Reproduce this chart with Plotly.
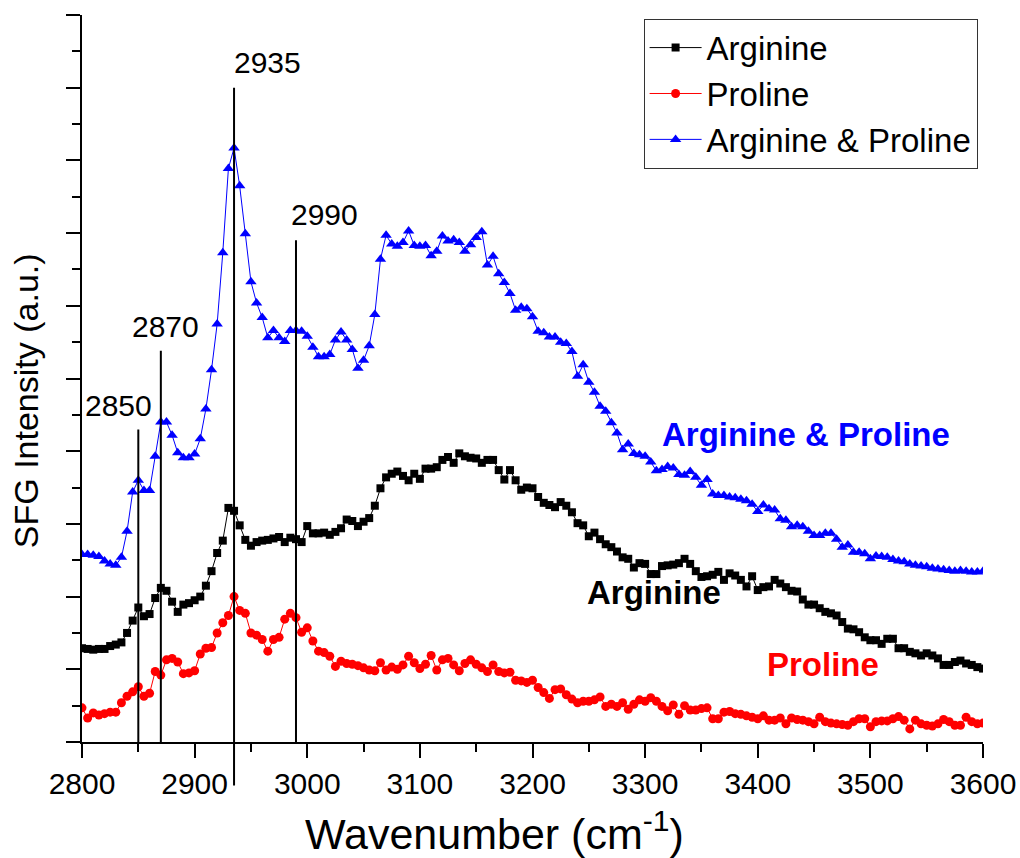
import plotly.graph_objects as go

# Wavenumber grid of the SFG scans (cm^-1, 5 cm^-1 steps)
wavenumber = list(range(2800, 3601, 5))

# SFG intensities (a.u.), curves offset vertically for clarity
arginine = [
    1.29, 1.28, 1.27, 1.28, 1.28, 1.32, 1.34, 1.37, 1.50, 1.67,
    1.85, 1.73, 1.76, 1.98, 2.12, 2.08, 1.93, 1.79, 1.89, 1.91,
    1.95, 2.00, 2.15, 2.35, 2.60, 2.77, 3.22, 3.18, 2.98, 2.78,
    2.70, 2.75, 2.77, 2.78, 2.80, 2.82, 2.75, 2.81, 2.79, 2.75,
    2.97, 2.87, 2.87, 2.88, 2.85, 2.89, 2.94, 3.06, 3.04, 2.97,
    3.03, 3.08, 3.25, 3.49, 3.64, 3.69, 3.72, 3.66, 3.60, 3.69,
    3.62, 3.76, 3.76, 3.78, 3.88, 3.92, 3.84, 3.97, 3.93, 3.91,
    3.90, 3.84, 3.88, 3.88, 3.74, 3.61, 3.74, 3.60, 3.47, 3.50,
    3.49, 3.37, 3.29, 3.26, 3.23, 3.30, 3.25, 3.16, 3.01, 2.98,
    2.83, 2.88, 2.79, 2.72, 2.68, 2.62, 2.54, 2.52, 2.40, 2.46,
    2.45, 2.31, 2.31, 2.42, 2.43, 2.44, 2.46, 2.52, 2.45, 2.35,
    2.27, 2.28, 2.30, 2.34, 2.23, 2.32, 2.29, 2.23, 2.14, 2.28,
    2.09, 2.13, 2.14, 2.23, 2.18, 2.13, 2.08, 2.07, 1.96, 1.89,
    1.89, 1.84, 1.79, 1.77, 1.74, 1.65, 1.56, 1.55, 1.51, 1.44,
    1.40, 1.40, 1.35, 1.42, 1.42, 1.29, 1.29, 1.24, 1.22, 1.19,
    1.22, 1.19, 1.15, 1.06, 1.06, 1.10, 1.12, 1.08, 1.06, 1.03,
    1.01,
]

proline = [
    0.47, 0.33, 0.40, 0.37, 0.39, 0.41, 0.41, 0.54, 0.63, 0.69,
    0.76, 0.63, 0.67, 0.97, 0.92, 1.13, 1.15, 1.10, 0.94, 0.95,
    0.98, 1.21, 1.29, 1.30, 1.50, 1.64, 1.74, 2.00, 1.81, 1.77,
    1.50, 1.47, 1.41, 1.25, 1.41, 1.44, 1.69, 1.77, 1.71, 1.51,
    1.57, 1.39, 1.25, 1.23, 1.18, 1.04, 1.11, 1.08, 1.07, 1.05,
    1.02, 0.99, 0.98, 1.09, 0.99, 1.03, 1.00, 1.06, 1.18, 1.09,
    1.01, 1.07, 1.19, 0.99, 1.13, 1.15, 1.06, 0.98, 1.08, 1.13,
    1.07, 1.02, 0.97, 1.06, 0.97, 0.95, 0.96, 0.85, 0.84, 0.82,
    0.85, 0.75, 0.68, 0.60, 0.72, 0.73, 0.65, 0.59, 0.54, 0.56,
    0.56, 0.58, 0.62, 0.49, 0.52, 0.49, 0.54, 0.45, 0.52, 0.58,
    0.56, 0.61, 0.56, 0.49, 0.43, 0.51, 0.38, 0.50, 0.44, 0.44,
    0.46, 0.47, 0.32, 0.32, 0.41, 0.42, 0.39, 0.38, 0.36, 0.34,
    0.32, 0.36, 0.30, 0.30, 0.33, 0.25, 0.33, 0.31, 0.30, 0.28,
    0.25, 0.34, 0.28, 0.26, 0.25, 0.24, 0.23, 0.28, 0.32, 0.32,
    0.21, 0.28, 0.29, 0.29, 0.32, 0.35, 0.30, 0.18, 0.30, 0.25,
    0.23, 0.22, 0.25, 0.31, 0.28, 0.23, 0.23, 0.34, 0.28, 0.25,
    0.26,
]

arginine_proline = [
    2.58, 2.58, 2.57, 2.55, 2.49, 2.45, 2.43, 2.54, 2.90, 3.44,
    3.60, 3.46, 3.46, 3.93, 4.40, 4.40, 4.22, 3.98, 3.91, 3.91,
    3.96, 4.17, 4.58, 5.12, 5.75, 6.73, 7.89, 8.17, 7.65, 6.99,
    6.33, 6.04, 5.84, 5.56, 5.66, 5.56, 5.51, 5.66, 5.66, 5.65,
    5.58, 5.43, 5.30, 5.30, 5.33, 5.53, 5.64, 5.53, 5.40, 5.14,
    5.25, 5.45, 5.88, 6.64, 6.97, 6.85, 6.82, 6.87, 7.03, 6.83,
    6.82, 6.83, 6.69, 6.75, 6.96, 6.89, 6.91, 6.87, 6.75, 6.84,
    6.94, 7.02, 6.56, 6.68, 6.44, 6.32, 6.17, 5.94, 5.98, 5.96,
    5.85, 5.65, 5.63, 5.57, 5.57, 5.50, 5.48, 5.37, 5.03, 5.19,
    4.95, 4.81, 4.62, 4.55, 4.39, 4.25, 4.02, 4.10, 3.97, 3.95,
    3.93, 3.85, 3.73, 3.75, 3.79, 3.77, 3.68, 3.67, 3.72, 3.64,
    3.53, 3.61, 3.41, 3.39, 3.39, 3.37, 3.36, 3.34, 3.32, 3.27,
    3.17, 3.26, 3.21, 3.19, 3.07, 3.05, 2.96, 2.98, 2.96, 2.90,
    2.84, 2.84, 2.87, 2.87, 2.79, 2.68, 2.71, 2.61, 2.61, 2.59,
    2.52, 2.56, 2.55, 2.54, 2.51, 2.49, 2.48, 2.45, 2.43, 2.42,
    2.41, 2.39, 2.38, 2.37, 2.36, 2.35, 2.36, 2.35, 2.34, 2.34,
    2.35,
]

# Assigned vibrational bands (cm^-1)
band_positions = [2850, 2870, 2935, 2990]
band_labels = ["2850", "2870", "2935", "2990"]

FONT = "Liberation Sans, Arial, sans-serif"

fig = go.Figure()

fig.add_trace(go.Scatter(
    x=wavenumber, y=arginine, name="Arginine", mode="lines+markers",
    line=dict(color="black", width=1),
    marker=dict(symbol="square", size=8, color="black"),
))
fig.add_trace(go.Scatter(
    x=wavenumber, y=proline, name="Proline", mode="lines+markers",
    line=dict(color="#ff0000", width=1),
    marker=dict(symbol="circle", size=9, color="#ff0000"),
))
fig.add_trace(go.Scatter(
    x=wavenumber, y=arginine_proline, name="Arginine & Proline",
    mode="lines+markers",
    line=dict(color="#0000ff", width=1),
    marker=dict(symbol="triangle-up", size=10, color="#0000ff"),
))

# Band markers: vertical lines (x in data units, y in paper units) with labels
line_tops = [0.430, 0.538, 0.900, 0.690]
line_bottoms = [0.0, 0.0, -0.060, 0.0]
label_x = [2801, 2843, 2933, 2984]
label_y = [0.463, 0.572, 0.935, 0.725]

shapes = []
annotations = []
for pos, lab, top, bot, lx, ly in zip(band_positions, band_labels, line_tops,
                                      line_bottoms, label_x, label_y):
    shapes.append(dict(type="line", xref="x", yref="paper",
                       x0=pos, x1=pos, y0=bot, y1=top,
                       line=dict(color="black", width=2)))
    annotations.append(dict(text=lab, xref="x", yref="paper", x=lx, y=ly,
                            xanchor="left", yanchor="middle", showarrow=False,
                            font=dict(family=FONT, size=30, color="black")))

# Curve labels
annotations += [
    dict(text="<b>Arginine & Proline</b>", xref="x", yref="paper",
         x=3443, y=0.423, showarrow=False,
         font=dict(family=FONT, size=33, color="#0000ff")),
    dict(text="<b>Arginine</b>", xref="x", yref="paper",
         x=3308, y=0.177, showarrow=False,
         font=dict(family=FONT, size=33, color="black")),
    dict(text="<b>Proline</b>", xref="x", yref="paper",
         x=3458, y=0.078, showarrow=False,
         font=dict(family=FONT, size=33, color="#ff0000")),
]

# Axis titles
annotations += [
    dict(text="Wavenumber (cm<sup>-1</sup>)", xref="paper", yref="paper",
         x=0.458, y=-0.123, xanchor="center", yanchor="middle",
         showarrow=False, font=dict(family=FONT, size=43, color="black")),
    dict(text="SFG Intensity (a.u.)", xref="paper", yref="paper",
         x=-0.062, y=0.469, xanchor="center", yanchor="middle",
         textangle=-90, showarrow=False,
         font=dict(family=FONT, size=34, color="black")),
]

fig.update_layout(
    width=1020, height=858,
    margin=dict(l=82, r=37, t=15, b=116, autoexpand=False),
    paper_bgcolor="white", plot_bgcolor="white",
    font=dict(family=FONT, color="black"),
    showlegend=True,
    legend=dict(
        x=0.994, y=0.995, xanchor="right", yanchor="top",
        bgcolor="white", bordercolor="#333333", borderwidth=1,
        font=dict(family=FONT, size=33, color="black"),
        itemwidth=52, tracegroupgap=0,
    ),
    shapes=shapes,
    annotations=annotations,
)

fig.update_xaxes(
    range=[2800, 3600], dtick=100, tick0=2800, automargin=False,
    showline=True, linecolor="black", linewidth=2, mirror=False,
    ticks="outside", ticklen=14, tickwidth=2, tickcolor="black",
    minor=dict(dtick=50, ticks="outside", ticklen=8, tickwidth=2,
               tickcolor="black"),
    tickfont=dict(family=FONT, size=30, color="black"),
    showgrid=False, zeroline=False,
)
fig.update_yaxes(
    range=[0, 10], dtick=1, tick0=0, automargin=False,
    showline=True, linecolor="black", linewidth=2, mirror=False,
    ticks="outside", ticklen=14, tickwidth=2, tickcolor="black",
    minor=dict(dtick=0.5, ticks="outside", ticklen=8, tickwidth=2,
               tickcolor="black"),
    showticklabels=False,
    showgrid=False, zeroline=False,
)

fig.write_html("out.html")
